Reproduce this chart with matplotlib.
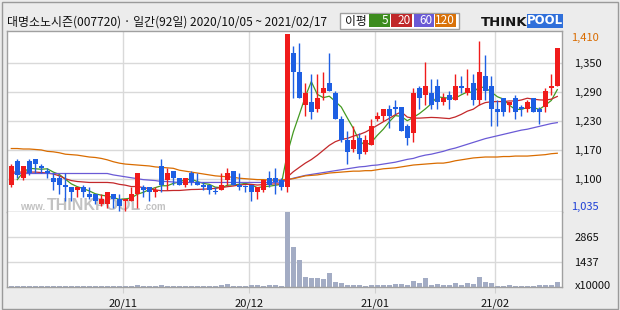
import matplotlib
matplotlib.use('Agg')
import matplotlib.pyplot as plt
from matplotlib.patches import Rectangle
import numpy as np
import pandas as pd

plt.rcParams['font.family'] = ['Noto Sans CJK KR', 'DejaVu Sans']

########################################
#               Data                   #
########################################

title = "대명소노시즌(007720) · 일간(92일) 2020/10/05 ~ 2021/02/17"

opens = [1090, 1140, 1105, 1140, 1145, 1130, 1120, 1105, 1105, 1090,
         1085, 1080, 1085, 1070, 1070, 1050, 1050, 1070, 1060, 1055,
         1055, 1070, 1085, 1085, 1075, 1130, 1100, 1120, 1105, 1090,
         1115, 1095, 1090, 1090, 1075, 1080, 1100, 1120, 1090, 1085,
         1090, 1075, 1080, 1105, 1105, 1100, 1085, 1370, 1330, 1260,
         1265, 1250, 1285, 1305, 1285, 1230, 1185, 1165, 1190, 1160,
         1175, 1230, 1235, 1250, 1255, 1255, 1215, 1200, 1295, 1280,
         1285, 1300, 1265, 1280, 1270, 1300, 1285, 1305, 1270, 1320,
         1300, 1250, 1275, 1260, 1275, 1255, 1250, 1275, 1250, 1255,
         1295, 1300]
highs = [1135, 1145, 1130, 1145, 1145, 1135, 1125, 1115, 1110, 1115,
         1085, 1085, 1090, 1085, 1070, 1070, 1075, 1070, 1070, 1060,
         1085, 1115, 1090, 1085, 1085, 1145, 1125, 1120, 1105, 1105,
         1120, 1115, 1095, 1090, 1085, 1115, 1125, 1120, 1115, 1090,
         1090, 1085, 1100, 1120, 1125, 1105, 1410, 1385, 1390, 1305,
         1325, 1325, 1330, 1370, 1290, 1235, 1205, 1215, 1200, 1195,
         1230, 1245, 1250, 1260, 1270, 1255, 1220, 1295, 1300, 1350,
         1315, 1315, 1285, 1290, 1325, 1320, 1335, 1325, 1395, 1365,
         1320, 1270, 1275, 1265, 1280, 1260, 1270, 1275, 1255, 1295,
         1325, 1380]
lows = [1085, 1105, 1100, 1110, 1115, 1115, 1105, 1080, 1070, 1055,
        1055, 1065, 1065, 1060, 1050, 1045, 1040, 1040, 1035, 1035,
        1055, 1040, 1065, 1055, 1065, 1075, 1080, 1090, 1090, 1085,
        1090, 1090, 1080, 1070, 1070, 1080, 1090, 1090, 1080, 1075,
        1055, 1060, 1075, 1085, 1070, 1080, 1075, 1275, 1275, 1235,
        1230, 1245, 1270, 1290, 1230, 1180, 1135, 1160, 1145, 1155,
        1175, 1225, 1225, 1210, 1240, 1205, 1175, 1180, 1250, 1260,
        1250, 1250, 1260, 1250, 1270, 1285, 1280, 1260, 1260, 1270,
        1215, 1215, 1235, 1245, 1230, 1235, 1245, 1245, 1220, 1245,
        1280, 1300]
closes = [1130, 1110, 1130, 1115, 1135, 1125, 1115, 1095, 1090, 1085,
          1075, 1085, 1075, 1065, 1055, 1060, 1075, 1060, 1045, 1060,
          1070, 1115, 1080, 1075, 1080, 1090, 1115, 1105, 1090, 1105,
          1095, 1090, 1085, 1080, 1075, 1090, 1115, 1090, 1085, 1085,
          1075, 1085, 1100, 1090, 1095, 1085, 1410, 1330, 1275, 1285,
          1245, 1275, 1295, 1290, 1230, 1185, 1160, 1185, 1155, 1185,
          1215, 1235, 1250, 1235, 1250, 1205, 1190, 1285, 1275, 1300,
          1260, 1265, 1275, 1270, 1300, 1295, 1295, 1270, 1330, 1290,
          1250, 1245, 1245, 1265, 1245, 1250, 1265, 1245, 1245, 1290,
          1300, 1380]
# volume in units of 10000 shares
volumes = [50, 50, 50, 50, 50, 50, 50, 50, 50, 50,
           50, 50, 50, 50, 50, 50, 50, 50, 50, 50,
           50, 115, 50, 50, 50, 115, 50, 50, 50, 50,
           50, 50, 50, 50, 50, 115, 170, 50, 50, 50,
           115, 115, 50, 115, 115, 60, 4300, 2290, 1560, 575,
           515, 515, 475, 800, 285, 230, 115, 115, 115, 60,
           115, 115, 115, 115, 170, 170, 115, 345, 230, 515,
           115, 170, 115, 115, 230, 115, 230, 170, 575, 285,
           230, 60, 60, 115, 60, 60, 60, 60, 100, 115,
           115, 285]

# moving averages that need closes from before the window
ma5_head = [np.nan, 1101, 1117, 1125]
ma20_head = [1117, 1117, 1117, 1117, 1117, 1116, 1115, 1113, 1109, 1103,
             1099, 1097, 1096, 1095, 1095, 1095, 1095, 1094, 1091]
ma60 = [1114, 1114, 1114, 1114, 1114, 1114, 1114, 1114, 1114, 1114,
        1114, 1114, 1114, 1114, 1114, 1114, 1114, 1111, 1109, 1107,
        1105, 1103, 1101, 1100, 1099, 1097, 1097, 1096, 1095, 1095,
        1095, 1095, 1095, 1095, 1095, 1095, 1095, 1095, 1095, 1095,
        1095, 1095, 1095, 1095, 1095, 1096, 1100, 1104, 1107, 1110,
        1112, 1114, 1116, 1118, 1120, 1122, 1124, 1126, 1128, 1129,
        1131, 1132, 1134, 1136, 1138, 1141, 1144, 1146, 1150, 1153,
        1155, 1158, 1161, 1165, 1168, 1172, 1176, 1180, 1184, 1188,
        1191, 1194, 1197, 1200, 1203, 1206, 1208, 1211, 1214, 1217,
        1220, 1222]
ma120 = [1167, 1167, 1166, 1166, 1165, 1164, 1161, 1160, 1158, 1155,
         1154, 1153, 1151, 1149, 1148, 1146, 1143, 1139, 1136, 1134,
         1133, 1132, 1131, 1130, 1128, 1127, 1126, 1125, 1121, 1119,
         1117, 1115, 1113, 1111, 1109, 1108, 1107, 1106, 1104, 1103,
         1102, 1101, 1101, 1100, 1100, 1100, 1102, 1103, 1106, 1109,
         1110, 1111, 1113, 1115, 1116, 1117, 1118, 1119, 1119, 1120,
         1120, 1122, 1124, 1125, 1126, 1128, 1130, 1132, 1133, 1134,
         1135, 1136, 1136, 1138, 1141, 1143, 1145, 1147, 1148, 1149,
         1149, 1149, 1150, 1150, 1151, 1151, 1151, 1152, 1153, 1154,
         1156, 1157]

month_starts = [19, 40, 61, 81]
month_labels = ['20/11', '20/12', '21/01', '21/02']
price_ticks = [1347.8, 1286.3, 1224.8, 1163.2, 1101.7]
price_tick_labels = ['1,350', '1,290', '1,230', '1,170', '1,100']
price_max_label = '1,410'
price_min_label = '1,035'
vol_ticks = [1437, 2865]
ma_names = ['5', '20', '60', '120']

########################################
#              Styling                 #
########################################

W, H = 620, 310
BG = '#ececec'
FRAME = '#a0a0a0'
GRID = '#d9d9d9'
UP = '#f01b1b'
DOWN = '#1e5fe3'
MA_COLORS = ['#449a22', '#c3282a', '#6a5ad6', '#d96c00']
LEGEND_COLORS = ['#3d8c1e', '#c0282a', '#6a5ad5', '#d9720a']
VOL_COLOR = '#a3acc4'
WATERMARK = '#c2c2c2'


def fx(x):
    return x / W


def fy(y):
    return 1 - y / H


def px_rect(fig, x0, y0, x1, y1, **kw):
    r = Rectangle((fx(x0), fy(y1)), fx(x1) - fx(x0), fy(y0) - fy(y1),
                  transform=fig.transFigure, **kw)
    fig.patches.append(r)
    return r


o = np.array(opens, float)
h = np.array(highs, float)
l = np.array(lows, float)
c = np.array(closes, float)
x = np.arange(len(c))

ma5 = pd.Series(c).rolling(5).mean().to_numpy()
ma5[:len(ma5_head)] = ma5_head
ma20 = pd.Series(c).rolling(20).mean().to_numpy()
ma20[:len(ma20_head)] = ma20_head
mas = [ma5, ma20, np.array(ma60, float), np.array(ma120, float)]

fig = plt.figure(figsize=(W / 100, H / 100), dpi=100, facecolor=BG)

# outer frame
px_rect(fig, 1.5, 1.5, 617.5, 308.5, facecolor='none', edgecolor='#9a9a9a', lw=1)

x_left = (7 - 11.3) / 6
x_right = (562 - 11.3) / 6
grid_x = [m - 0.43 for m in month_starts]

########################################
#            Price panel               #
########################################

ax = fig.add_axes([fx(7), fy(212), fx(562) - fx(7), fy(31) - fy(212)])
ax.set_facecolor('white')
ax.set_xlim(x_left, x_right)
ax.set_ylim(1032.3, 1416.4)
for yv in price_ticks:
    ax.axhline(yv, color=GRID, lw=1, zorder=0.2)
for gx in grid_x:
    ax.axvline(gx, color=GRID, lw=1, zorder=0.2)

# watermark
ax.text(fx(20), fy(209.5), 'www.', transform=fig.transFigure, fontsize=7,
        family='Liberation Sans', fontweight='bold', color=WATERMARK,
        va='baseline', zorder=0.5)
ax.text(fx(47), fy(209.5), 'THINKPOOL', transform=fig.transFigure, fontsize=11.5,
        family='Liberation Sans', fontweight='bold', color=WATERMARK,
        va='baseline', zorder=0.5)
ax.text(fx(143), fy(209.5), '.com', transform=fig.transFigure, fontsize=7,
        family='Liberation Sans', fontweight='bold', color=WATERMARK,
        va='baseline', zorder=0.5)

for ma, col in zip(mas, MA_COLORS):
    ax.plot(x, ma, color=col, lw=0.9, zorder=2)

colors = [UP if cc > oo else DOWN for oo, cc in zip(o, c)]
ax.vlines(x, l, h, colors=colors, lw=1, zorder=3)
body_lo = np.minimum(o, c)
body_h = np.maximum(np.abs(c - o), 1.5)
ax.bar(x, body_h, bottom=body_lo, width=0.78, color=colors, lw=0, zorder=4)

ax.set_xticks([])
ax.yaxis.tick_right()
ax.set_yticks(price_ticks)
ax.set_yticklabels(price_tick_labels)
ax.tick_params(axis='y', length=0, pad=9, labelsize=8, colors='#111111')
for s in ax.spines.values():
    s.set_color(FRAME)
    s.set_linewidth(1)

fig.text(fx(571), fy(38.3), price_max_label, color='#d96c00', fontsize=8, va='center')
fig.text(fx(571), fy(206.7), price_min_label, color='#1d3fd6', fontsize=8, va='center')

########################################
#            Volume panel              #
########################################

av = fig.add_axes([fx(7), fy(287), fx(562) - fx(7), fy(212) - fy(287)])
av.set_facecolor('white')
av.set_xlim(x_left, x_right)
av.set_ylim(0, 4300)
for yv in vol_ticks:
    av.axhline(yv, color=GRID, lw=1, zorder=0.2)
for gx in grid_x:
    av.axvline(gx, color=GRID, lw=1, zorder=0.2)
av.bar(x, volumes, width=0.8, color=VOL_COLOR, lw=0, zorder=2)

av.yaxis.tick_right()
av.set_yticks(vol_ticks)
av.set_yticklabels([str(v) for v in vol_ticks])
av.tick_params(axis='y', length=0, pad=9, labelsize=8, colors='#111111')
av.set_xticks(grid_x)
av.set_xticklabels(month_labels)
av.tick_params(axis='x', length=4, pad=4, labelsize=8, colors='#cfcfcf', labelcolor='#111111')
for s in av.spines.values():
    s.set_color(FRAME)
    s.set_linewidth(1)
av.spines['top'].set_visible(False)
fig.text(fx(575), fy(286), 'x10000', fontsize=8, va='center', color='#111111')

########################################
#          Header / legend             #
########################################

fig.text(fx(7), fy(22), title, fontsize=8.6, va='center', color='#111111')

px_rect(fig, 340, 12.7, 458.7, 29.3, facecolor='white', edgecolor=FRAME, lw=1)
fig.text(fx(345), fy(21), '이평', fontsize=8.5, va='center', color='#111111')
box_x = [(369.3, 390), (391.3, 412), (414, 434), (435.3, 456)]
for (bx0, bx1), col, name in zip(box_x, LEGEND_COLORS, ma_names):
    px_rect(fig, bx0, 14, bx1, 27.3, facecolor=col, edgecolor='none')
    fig.text(fx(bx1 - 1.5), fy(21), name, fontsize=8.5, va='center', ha='right', color='white')

# THINKPOOL logo
fig.text(fx(481), fy(26.5), 'THINK', fontsize=9.5, family='DejaVu Sans',
         fontweight='bold', va='baseline', color='#151515')
px_rect(fig, 527, 14, 563, 27.5, facecolor='#2f6fda', edgecolor='none')
fig.text(fx(545), fy(21), 'POOL', fontsize=8.5, family='DejaVu Sans',
         fontweight='bold', va='center', ha='center', color='white')

fig.savefig('out.png', dpi=100, facecolor=BG)
